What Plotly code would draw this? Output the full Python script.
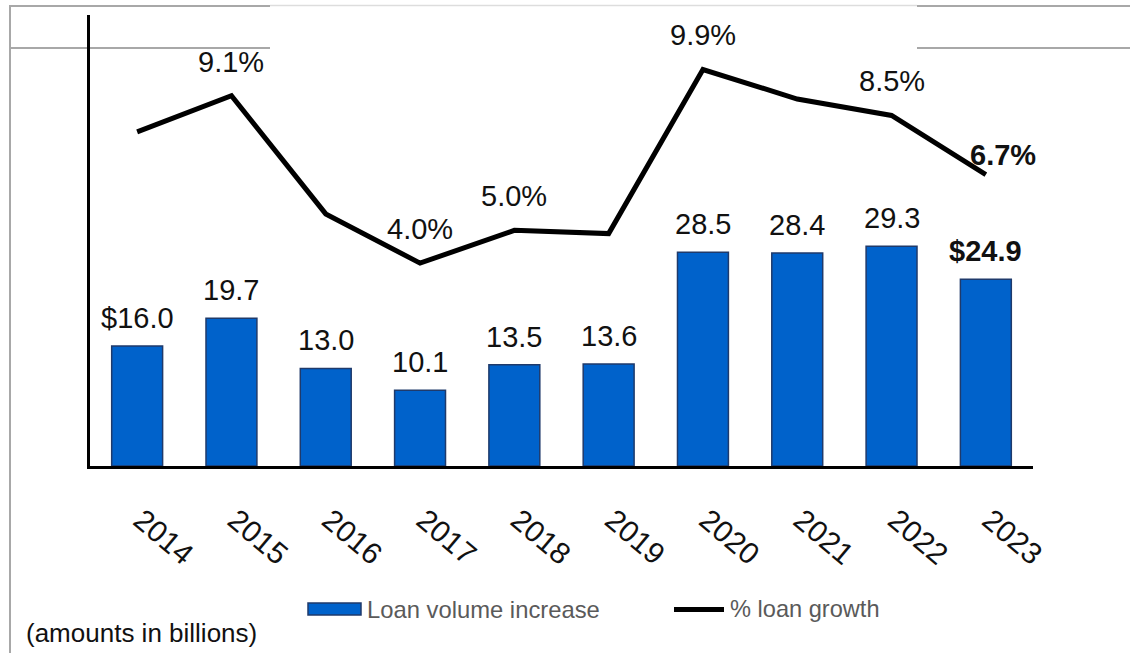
import plotly.graph_objects as go

# Annual loan volume increase ($ billions) and % loan growth
years = ["2014", "2015", "2016", "2017", "2018", "2019", "2020", "2021", "2022", "2023"]
loan_increase = [16.0, 19.7, 13.0, 10.1, 13.5, 13.6, 28.5, 28.4, 29.3, 24.9]
loan_growth = [8.0, 9.1, 5.5, 4.0, 5.0, 4.9, 9.9, 9.0, 8.5, 6.7]
growth_labeled_years = ["2015", "2017", "2018", "2020", "2022", "2023"]

FONT = "Liberation Sans, Arial, sans-serif"
W, H = 1130, 653
L, R, T, B = 90, 97, 15, 187
PW, PH = W - L - R, H - T - B


def px(x):
    return (x - L) / PW


def py(y):
    return (H - B - y) / PH


fig = go.Figure()

fig.add_trace(go.Bar(
    x=years, y=loan_increase, name="Loan volume increase",
    marker=dict(color="#0062CB", line=dict(color="#1F3A6B", width=1.5)),
    hoverinfo="skip",
))

fig.add_trace(go.Scatter(
    x=years, y=loan_growth, name="% loan growth", yaxis="y2",
    mode="lines", line=dict(color="#000000", width=5),
    hoverinfo="skip",
))

annotations = []

# bar value labels (x given as category index)
last = len(years) - 1
for i, v in enumerate(loan_increase):
    txt = f"{v:.1f}"
    if i == 0 or i == last:
        txt = "$" + txt
    if i == last:
        txt = f"<b>{txt}</b>"
    annotations.append(dict(
        x=i, y=v, xref="x", yref="y", text=txt, showarrow=False,
        yanchor="middle", yshift=28,
        font=dict(family=FONT, size=29, color="#111111"),
    ))

# growth labels
for i, (yr, v) in enumerate(zip(years, loan_growth)):
    if yr not in growth_labeled_years:
        continue
    txt = f"{v:.1f}%"
    a = dict(x=i, y=v, xref="x", yref="y2", showarrow=False,
             yanchor="middle", yshift=34,
             font=dict(family=FONT, size=29, color="#111111"))
    if i == last:
        txt = f"<b>{txt}</b>"
        a.update(xshift=17, yshift=20)
    a["text"] = txt
    annotations.append(a)

# unit note
annotations.append(dict(
    x=px(24), y=py(633), xref="paper", yref="paper", xanchor="left", yanchor="middle",
    text="(amounts in billions)", showarrow=False,
    font=dict(family=FONT, size=26, color="#111111"),
))

# legend entries
annotations.append(dict(
    x=px(365), y=py(609), xref="paper", yref="paper", xanchor="left", yanchor="middle",
    text="Loan volume increase", showarrow=False,
    font=dict(family=FONT, size=23.8, color="#5A5A5A"),
))
annotations.append(dict(
    x=px(728), y=py(609), xref="paper", yref="paper", xanchor="left", yanchor="middle",
    text="% loan growth", showarrow=False,
    font=dict(family=FONT, size=23.6, color="#5A5A5A"),
))

shapes = [
    # legend keys
    dict(type="rect", xref="paper", yref="paper", x0=px(308), x1=px(361), y0=py(615), y1=py(603),
         fillcolor="#0062CB", line=dict(color="#1F3A6B", width=1.5)),
    dict(type="line", xref="paper", yref="paper", x0=px(674), x1=px(724), y0=py(609.5), y1=py(609.5),
         line=dict(color="#000000", width=5)),
    # surrounding frame lines
    dict(type="line", xref="paper", yref="paper", x0=px(10), x1=px(10), y0=py(5), y1=py(660),
         line=dict(color="#A8A8A8", width=2), layer="below"),
    dict(type="line", xref="paper", yref="paper", x0=px(10), x1=px(270), y0=py(6), y1=py(6),
         line=dict(color="#A8A8A8", width=2), layer="below"),
    dict(type="line", xref="paper", yref="paper", x0=px(270), x1=px(917), y0=py(5.5), y1=py(5.5),
         line=dict(color="#DDDDDD", width=1.5), layer="below"),
    dict(type="line", xref="paper", yref="paper", x0=px(917), x1=px(1135), y0=py(6), y1=py(6),
         line=dict(color="#A8A8A8", width=2), layer="below"),
    dict(type="line", xref="paper", yref="paper", x0=px(10), x1=px(270), y0=py(48), y1=py(48),
         line=dict(color="#A8A8A8", width=2), layer="below"),
    dict(type="line", xref="paper", yref="paper", x0=px(917), x1=px(1135), y0=py(48), y1=py(48),
         line=dict(color="#A8A8A8", width=2), layer="below"),
]

fig.update_layout(
    width=W, height=H,
    margin=dict(l=L, r=R, t=T, b=B),
    paper_bgcolor="white", plot_bgcolor="white",
    showlegend=False,
    bargap=0.46,
    font=dict(family=FONT, color="#111111"),
    xaxis=dict(
        type="category", range=[-0.5, len(years) - 0.5],
        showgrid=False, zeroline=False,
        showline=True, linecolor="#000000", linewidth=2.5,
        ticks="", tickangle=40, ticklabelstandoff=22, ticklabelshift=4,
        tickfont=dict(family=FONT, size=30, color="#111111"),
    ),
    yaxis=dict(
        range=[0, 60.1], showgrid=False, zeroline=False,
        showline=True, linecolor="#000000", linewidth=2.5,
        showticklabels=False, ticks="",
    ),
    yaxis2=dict(
        range=[-2.18, 11.56], overlaying="y", side="right",
        visible=False, showgrid=False, zeroline=False,
    ),
    annotations=annotations,
    shapes=shapes,
)

fig.write_html("out.html")
